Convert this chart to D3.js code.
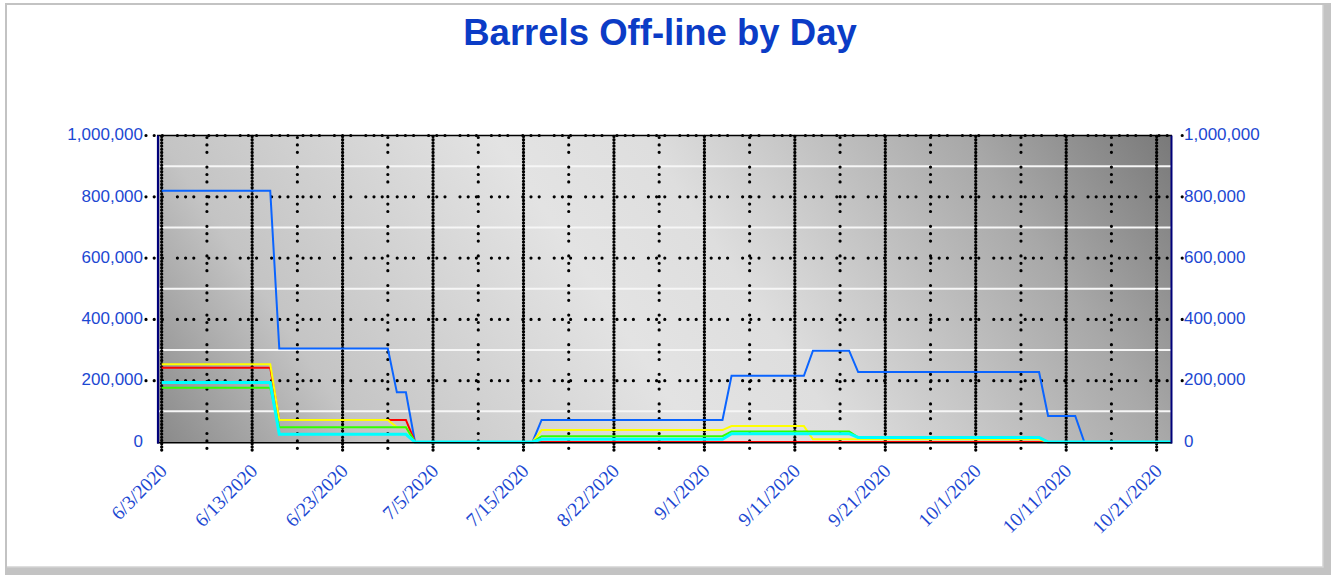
<!DOCTYPE html>
<html><head><meta charset="utf-8">
<script src="https://cdnjs.cloudflare.com/ajax/libs/d3/7.8.5/d3.min.js"></script>
<style>body{margin:0;background:#fff;} svg{display:block;}</style>
</head><body><svg id="chart" width="1331" height="575"></svg>
<script>
// ---- Data ----
const dates = [
 "6/3/2020","6/4/2020","6/5/2020","6/6/2020","6/7/2020","6/8/2020","6/9/2020","6/10/2020","6/11/2020","6/12/2020",
 "6/13/2020","6/14/2020","6/15/2020","6/16/2020","6/17/2020","6/18/2020","6/19/2020","6/20/2020","6/21/2020","6/22/2020",
 "6/23/2020","6/24/2020","6/25/2020","6/26/2020","6/27/2020","6/28/2020","6/29/2020","6/30/2020","7/1/2020","7/2/2020",
 "7/5/2020","7/6/2020","7/7/2020","7/8/2020","7/9/2020","7/10/2020","7/11/2020","7/12/2020","7/13/2020","7/14/2020",
 "7/15/2020","8/13/2020","8/14/2020","8/15/2020","8/16/2020","8/17/2020","8/18/2020","8/19/2020","8/20/2020","8/21/2020",
 "8/22/2020","8/23/2020","8/24/2020","8/25/2020","8/26/2020","8/27/2020","8/28/2020","8/29/2020","8/30/2020","8/31/2020",
 "9/1/2020","9/2/2020","9/3/2020","9/4/2020","9/5/2020","9/6/2020","9/7/2020","9/8/2020","9/9/2020","9/10/2020",
 "9/11/2020","9/12/2020","9/13/2020","9/14/2020","9/15/2020","9/16/2020","9/17/2020","9/18/2020","9/19/2020","9/20/2020",
 "9/21/2020","9/22/2020","9/23/2020","9/24/2020","9/25/2020","9/26/2020","9/27/2020","9/28/2020","9/29/2020","9/30/2020",
 "10/1/2020","10/2/2020","10/3/2020","10/4/2020","10/5/2020","10/6/2020","10/7/2020","10/8/2020","10/9/2020","10/10/2020",
 "10/11/2020","10/12/2020","10/13/2020","10/14/2020","10/15/2020","10/16/2020","10/17/2020","10/18/2020","10/19/2020","10/20/2020",
 "10/21/2020","10/22/2020","10/23/2020"
];
const tickLabels = ["6/3/2020","6/13/2020","6/23/2020","7/5/2020","7/15/2020","8/22/2020","9/1/2020","9/11/2020","9/21/2020","10/1/2020","10/11/2020","10/21/2020"];
const minorTickLabels = ["6/8/2020","6/18/2020","6/28/2020","7/10/2020","8/17/2020","8/27/2020","9/6/2020","9/16/2020","9/26/2020","10/6/2020","10/16/2020"];
const yTicks = [0,200000,400000,600000,800000,1000000];
const yMinorTicks = [100000,300000,500000,700000,900000];
const titleText = "Barrels Off-line by Day";

const blueSeries = [
 820000,820000,820000,820000,820000, 820000,820000,820000,820000,820000, 820000,820000,820000,
 305000,305000,305000,305000,305000, 305000,305000,305000,305000,305000, 305000,305000,305000,
 162000,162000,
 0,0,0,0,0, 0,0,0,0,0, 0,0,0,0,
 72000,72000,72000,72000,72000, 72000,72000,72000,72000,72000, 72000,72000,72000,72000,72000, 72000,72000,72000,72000,72000, 72000,
 216000,216000,216000,216000,216000, 216000,216000,216000,216000,
 298000,298000,298000,298000,298000,
 228000,228000,228000,228000,228000, 228000,228000,228000,228000,228000, 228000,228000,228000,228000,228000, 228000,228000,228000,228000,228000, 228000,
 85000,85000,85000,85000,
 0,0,0,0,0, 0,0,0,0,0, 0
];
const redSeries = [
 242000,242000,242000,242000,242000, 242000,242000,242000,242000,242000, 242000,242000,242000,
 72000,72000,72000,72000,72000, 72000,72000,72000,72000,72000, 72000,72000,72000,72000,72000,
 0,0,0,0,0, 0,0,0,0,0, 0,0,0,0,0, 0,0,0,0,0,
 0,0,0,0,0, 0,0,0,0,0, 0,0,0,0,0, 0,0,0,0,0,
 0,0,0,0,0, 0,0,0,0,0, 0,0,0,0,0, 0,0,0,0,0,
 0,0,0,0,0, 0,0,0,0,0, 0,0,0,0,0, 0,0,0,0,0,
 0,0,0,0,0
];
const yellowSeries = [
 254000,254000,254000,254000,254000, 254000,254000,254000,254000,254000, 254000,254000,254000,
 72000,72000,72000,72000,72000, 72000,72000,72000,72000,72000, 72000,72000,72000,
 48000,48000,
 0,0,0,0,0, 0,0,0,0,0, 0,0,0,0,
 39000,39000,39000,39000,39000, 39000,39000,39000,39000,39000, 39000,39000,39000,39000,39000, 39000,39000,39000,39000,39000, 39000,
 52000,52000,52000,52000,52000, 52000,52000,52000,52000,
 9000,9000,9000,9000,9000, 9000,9000,9000,9000,9000, 9000,9000,9000,9000,9000, 9000,9000,9000,9000,9000, 9000,9000,9000,9000,9000, 9000,
 0,0,0,0,0, 0,0,0,0,0, 0,0,0,0,0
];
const greenSeries = [
 177000,177000,177000,177000,177000, 177000,177000,177000,177000,177000, 177000,177000,177000,
 48000,48000,48000,48000,48000, 48000,48000,48000,48000,48000, 48000,48000,48000,48000,48000,
 0,0,0,0,0, 0,0,0,0,0, 0,0,0,0,
 19000,19000,19000,19000,19000, 19000,19000,19000,19000,19000, 19000,19000,19000,19000,19000, 19000,19000,19000,19000,19000, 19000,
 34000,34000,34000,34000,34000, 34000,34000,34000,34000,34000, 34000,34000,34000,34000,
 15000,15000,15000,15000,15000, 15000,15000,15000,15000,15000, 15000,15000,15000,15000,15000, 15000,15000,15000,15000,15000, 15000,
 0,0,0,0,0, 0,0,0,0,0, 0,0,0,0,0
];
const cyanSeries = [
 194000,194000,194000,194000,194000, 194000,194000,194000,194000,194000, 194000,194000,194000,
 25000,25000,25000,25000,25000, 25000,25000,25000,25000,25000, 25000,25000,25000,25000,25000,
 0,0,0,0,0, 0,0,0,0,0, 0,0,0,0,
 9000,9000,9000,9000,9000, 9000,9000,9000,9000,9000, 9000,9000,9000,9000,9000, 9000,9000,9000,9000,9000, 9000,
 27000,27000,27000,27000,27000, 27000,27000,27000,27000,27000, 27000,27000,27000,27000,
 15000,15000,15000,15000,15000, 15000,15000,15000,15000,15000, 15000,15000,15000,15000,15000, 15000,15000,15000,15000,15000, 15000,
 0,0,0,0,0, 0,0,0,0,0, 0,0,0,0,0
];

// ---- Layout / styles ----
const svg = d3.select("#chart");
const plot = {left:157, right:1172, top:135.5, bottom:442};
const labelBlue = "#1c48d2";
const series = [
  {values: blueSeries, color: "#0a64ff", width: 2},
  {values: redSeries, color: "#ff0000", width: 2},
  {values: yellowSeries, color: "#ffff00", width: 2},
  {values: greenSeries, color: "#33ff00", width: 2},
  {values: cyanSeries, color: "#00ffff", width: 3}
];

const x = d3.scalePoint().domain(dates).range([161.7, 161.7 + (dates.length - 1) * 9.045]);
const y = d3.scaleLinear().domain([0, 1000000]).range([plot.bottom, plot.top]);

const defs = svg.append("defs");
const grad = defs.append("linearGradient").attr("id","bg").attr("gradientUnits","userSpaceOnUse")
  .attr("x1",200).attr("y1",600).attr("x2",1130).attr("y2",-20);
[[0,"#777777"],[0.2,"#c4c4c4"],[0.45,"#e3e3e3"],[0.56,"#dedede"],[0.8,"#a8a8a8"],[0.96,"#777777"],[1,"#737373"]]
  .forEach(s => grad.append("stop").attr("offset", s[0]).attr("stop-color", s[1]));
defs.append("clipPath").attr("id","clip").append("rect")
  .attr("x", plot.left).attr("y", plot.top - 4).attr("width", plot.right - plot.left - 1).attr("height", plot.bottom - plot.top + 6);

// frame
svg.append("rect").attr("x",5).attr("y",3).attr("width",1326).attr("height",572).attr("fill","#c3c3c3");
svg.append("rect").attr("x",7).attr("y",5).attr("width",1315.5).attr("height",561.5).attr("fill","#fff");
svg.append("line").attr("x1",1323).attr("x2",1323).attr("y1",5).attr("y2",567.5).attr("stroke","#dadada").attr("stroke-width",1);
svg.append("line").attr("x1",7).attr("x2",1323.5).attr("y1",567).attr("y2",567).attr("stroke","#dadada").attr("stroke-width",1);

// title
svg.append("text").attr("x",660).attr("y",45).attr("text-anchor","middle")
  .attr("font-family","'Liberation Sans', Arial, sans-serif").attr("font-weight","bold")
  .attr("font-size",36.5).attr("fill","#0b3cc6").text(titleText);

// plot background
svg.append("rect").attr("x",plot.left).attr("y",plot.top).attr("width",plot.right-plot.left)
  .attr("height",plot.bottom-plot.top).attr("fill","url(#bg)");

// white minor horizontal lines
svg.append("g").selectAll("line").data(yMinorTicks).join("line")
  .attr("x1",plot.left).attr("x2",plot.right).attr("y1",d=>y(d)).attr("y2",d=>y(d))
  .attr("stroke","#f6f6f6").attr("stroke-width",2);

// dotted horizontal major grid (extends into tick area)
svg.append("g").selectAll("line").data(yTicks.filter(d=>d>0)).join("line")
  .attr("x1",146).attr("x2",1185).attr("y1",d=>y(d)).attr("y2",d=>y(d))
  .attr("stroke","#000").attr("stroke-width",3.2).attr("stroke-linecap","round")
  .attr("stroke-dasharray","0 8.2 0 8.2 0 15");

// dense vertical grid at labelled ticks
svg.append("g").selectAll("line").data(tickLabels).join("line")
  .attr("x1",d=>x(d)).attr("x2",d=>x(d)).attr("y1",plot.top+1).attr("y2",453)
  .attr("stroke","#000").attr("stroke-width",3.3).attr("stroke-linecap","round")
  .attr("stroke-dasharray","0 3.2");

// sparse vertical grid at mid ticks
svg.append("g").selectAll("line").data(minorTickLabels).join("line")
  .attr("x1",d=>x(d)).attr("x2",d=>x(d)).attr("y1",plot.top+2).attr("y2",453)
  .attr("stroke","#000").attr("stroke-width",3.2).attr("stroke-linecap","round")
  .attr("stroke-dasharray","0 7.4 0 7.4 0 14.8");

// top border
svg.append("line").attr("x1",plot.left).attr("x2",plot.right).attr("y1",plot.top).attr("y2",plot.top)
  .attr("stroke","#000").attr("stroke-width",1.5);

// data lines
const line = d3.line().x((d,i)=>x(dates[i])).y(d=>y(d));
const lg = svg.append("g").attr("clip-path","url(#clip)");
series.forEach(s => {
  lg.append("path").datum(s.values).attr("d", line).attr("fill","none")
    .attr("stroke", s.color).attr("stroke-width", s.width).attr("stroke-linejoin","miter");
});

// axis lines
svg.append("line").attr("x1",plot.left).attr("x2",plot.right).attr("y1",442.7).attr("y2",442.7)
  .attr("stroke","#000").attr("stroke-width",1.6);
svg.append("line").attr("x1",158).attr("x2",158).attr("y1",plot.top).attr("y2",443.5)
  .attr("stroke","#00007a").attr("stroke-width",2.2);
svg.append("line").attr("x1",1171.5).attr("x2",1171.5).attr("y1",plot.top).attr("y2",443.5)
  .attr("stroke","#00007a").attr("stroke-width",2);

// axes (labels)
const fmt = d3.format(",");
const leftAxis = svg.append("g").attr("transform",`translate(${plot.left},0)`)
  .call(d3.axisLeft(y).tickValues(yTicks).tickFormat(fmt).tickSize(0).tickPadding(14));
const rightAxis = svg.append("g").attr("transform",`translate(${plot.right},0)`)
  .call(d3.axisRight(y).tickValues(yTicks).tickFormat(fmt).tickSize(0).tickPadding(12));
[leftAxis, rightAxis].forEach(a => {
  a.select(".domain").remove();
  a.selectAll("text").attr("dy","0.25em").attr("fill",labelBlue)
    .attr("font-family","'Liberation Sans', Arial, sans-serif").attr("font-size",17);
});

const bottomAxis = svg.append("g").attr("transform",`translate(0,${plot.bottom})`)
  .call(d3.axisBottom(x).tickValues(tickLabels).tickSize(0));
bottomAxis.select(".domain").remove();
bottomAxis.selectAll("text").attr("x",0).attr("y",0).attr("dy",0)
  .attr("text-anchor","end").attr("transform","translate(6,30) rotate(-45)")
  .attr("fill",labelBlue).attr("font-family","'Liberation Serif', 'Times New Roman', serif").attr("font-size",19.5);
</script>
</body></html>
